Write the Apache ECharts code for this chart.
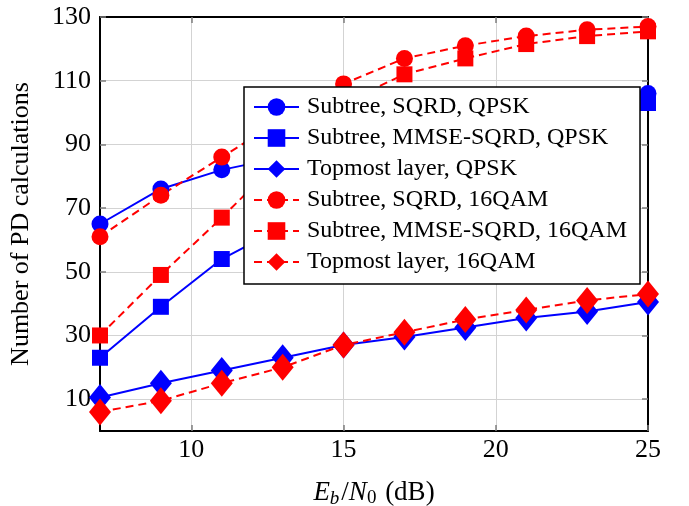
<!DOCTYPE html>
<html>
<head>
<meta charset="utf-8">
<script src="https://cdn.jsdelivr.net/npm/echarts@6/dist/echarts.min.js"></script>
<style>
	html, body { margin: 0; padding: 0; background: #fff; }
	#chart { width: 689px; height: 506px; }
</style>
</head>
<body>
<div id="chart"></div>
<script>
	// Eb/N0 in dB
	const snr = [7, 9, 11, 13, 15, 17, 19, 21, 23, 25]

	const subtreeSqrdQpsk = [65, 76, 82, 86, 90, 94, 97, 100, 103, 106]
	const subtreeMmseQpsk = [23, 39, 54, 64, 72, 80, 87, 93, 98, 103]
	const topmostQpsk = [10.5, 15, 19, 23, 27, 29.5, 32.5, 35.5, 37.5, 40.5]
	const subtreeSqrd16 = [61, 74, 86, 98, 109, 117, 121, 124, 126, 127]
	const subtreeMmse16 = [30, 49, 67, 86, 103, 112, 117, 121.5, 124, 125.5]
	const topmost16 = [6, 9.5, 15, 20, 27, 31, 35, 38, 41, 43]

	const xTicks = [10, 15, 20, 25]
	const yTicks = [10, 30, 50, 70, 90, 110, 130]

	const FONT = "Liberation Serif"
	const BLUE = "#0000ff"
	const RED = "#ff0000"

	function pairs(ys) {
		return snr.map((x, i) => [x, ys[i]])
	}

	function mkSeries(name, ys, color, symbol, size, dashed) {
		return {
			name: name,
			type: "line",
			data: pairs(ys),
			xAxisIndex: 0,
			yAxisIndex: 0,
			symbol: symbol,
			symbolSize: size,
			showAllSymbol: true,
			itemStyle: { color: color, opacity: 1 },
			lineStyle: {
				color: color,
				width: 2,
				type: dashed ? [8, 5] : "solid"
			},
			emphasis: { disabled: true },
			animation: false
		}
	}

	const chart = echarts.init(document.getElementById("chart"))

	const axisCommon = {
		type: "value",
		axisLine: { show: true, onZero: false, lineStyle: { color: "#000", width: 2 } },
		axisTick: { show: true, inside: true, length: 6, lineStyle: { color: "#7f7f7f", width: 1.5 } }
	}

	chart.setOption({
		backgroundColor: "#fff",
		animation: false,
		grid: { left: 100, right: 41, top: 17, bottom: 75, containLabel: false, outerBoundsMode: "none" },
		textStyle: { fontFamily: FONT },
		legend: {
			orient: "vertical",
			left: 244,
			top: 87,
			padding: [8, 13, 10, 9],
			itemGap: 7,
			itemWidth: 45,
			itemHeight: 22,
			backgroundColor: "#fff",
			borderColor: "#000",
			borderWidth: 1.5,
			borderRadius: 0,
			textStyle: { fontFamily: FONT, fontSize: 24, color: "#000", lineHeight: 24, padding: [0, 0, 0, 3] },
			data: [
				"Subtree, SQRD, QPSK",
				"Subtree, MMSE-SQRD, QPSK",
				"Topmost layer, QPSK",
				"Subtree, SQRD, 16QAM",
				"Subtree, MMSE-SQRD, 16QAM",
				"Topmost layer, 16QAM"
			]
		},
		xAxis: [
			Object.assign({}, axisCommon, {
				min: 7,
				max: 25,
				position: "bottom",
				axisTick: Object.assign({}, axisCommon.axisTick, { customValues: xTicks }),
				axisLabel: { customValues: xTicks, fontFamily: FONT, fontSize: 26, color: "#000", margin: 6 },
				splitLine: { show: true, lineStyle: { color: "#d3d3d3", width: 1 } },
				name: "{i|E}{si|b}{n|/}{i|N}{s|0}{n| (dB)}",
				nameLocation: "middle",
				nameGap: 47,
				nameTextStyle: {
					rich: {
						i: { fontFamily: FONT, fontSize: 27, fontStyle: "italic", color: "#000" },
						n: { fontFamily: FONT, fontSize: 27, color: "#000" },
						si: { fontFamily: FONT, fontSize: 19, fontStyle: "italic", color: "#000", padding: [11, 2, 0, 0] },
						s: { fontFamily: FONT, fontSize: 19, color: "#000", padding: [11, 2, 0, 0] }
					}
				}
			}),
			Object.assign({}, axisCommon, {
				min: 7,
				max: 25,
				position: "top",
				axisTick: Object.assign({}, axisCommon.axisTick, { customValues: xTicks }),
				axisLabel: { show: false },
				splitLine: { show: false }
			})
		],
		yAxis: [
			Object.assign({}, axisCommon, {
				min: 0,
				max: 130,
				position: "left",
				axisTick: Object.assign({}, axisCommon.axisTick, { customValues: yTicks }),
				axisLabel: { customValues: yTicks, fontFamily: FONT, fontSize: 26, color: "#000", margin: 9 },
				splitLine: { show: true, lineStyle: { color: "#d3d3d3", width: 1 } },
				name: "Number of PD calculations",
				nameLocation: "middle",
				nameGap: 66,
				nameTextStyle: { fontFamily: FONT, fontSize: 26, color: "#000" }
			}),
			Object.assign({}, axisCommon, {
				min: 0,
				max: 130,
				position: "right",
				axisTick: Object.assign({}, axisCommon.axisTick, { customValues: yTicks }),
				axisLabel: { show: false },
				splitLine: { show: false }
			})
		],
		series: [
			mkSeries("Subtree, SQRD, QPSK", subtreeSqrdQpsk, BLUE, "circle", 17, false),
			mkSeries("Subtree, MMSE-SQRD, QPSK", subtreeMmseQpsk, BLUE, "rect", 16, false),
			mkSeries("Topmost layer, QPSK", topmostQpsk, BLUE, "diamond", [22, 27], false),
			mkSeries("Subtree, SQRD, 16QAM", subtreeSqrd16, RED, "circle", 17, true),
			mkSeries("Subtree, MMSE-SQRD, 16QAM", subtreeMmse16, RED, "rect", 16, true),
			mkSeries("Topmost layer, 16QAM", topmost16, RED, "diamond", [22, 27], true)
		]
	})
</script>
</body>
</html>
